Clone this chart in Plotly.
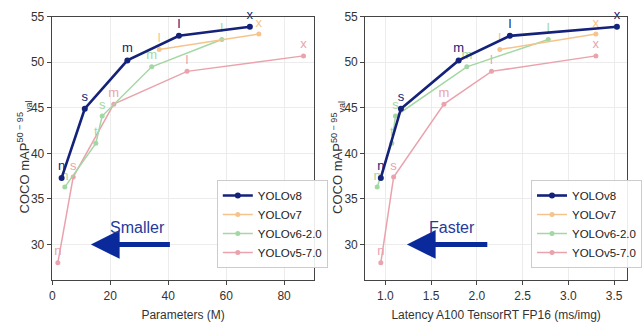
import plotly.graph_objects as go

# ---- data ----
series_names = ["YOLOv8", "YOLOv7", "YOLOv6-2.0", "YOLOv5-7.0"]

v8_labels = ["n", "s", "m", "l", "x"]
v8_params = [3.2, 11.2, 25.9, 43.7, 68.2]
v8_latency = [0.95, 1.17, 1.80, 2.36, 3.53]
v8_map = [37.3, 44.9, 50.2, 52.9, 53.9]

v7_labels = ["l", "x"]
v7_params = [36.9, 71.3]
v7_latency = [2.25, 3.30]
v7_map = [51.4, 53.1]

v6_labels = ["n", "t", "s", "m", "l"]
v6_params = [4.3, 15.0, 17.2, 34.3, 58.5]
v6_latency = [0.91, 1.07, 1.11, 1.89, 2.78]
v6_map = [36.3, 41.1, 44.1, 49.5, 52.5]

v5_labels = ["n", "s", "m", "l", "x"]
v5_params = [1.9, 7.2, 21.2, 46.5, 86.7]
v5_latency = [0.95, 1.09, 1.64, 2.16, 3.30]
v5_map = [28.0, 37.4, 45.4, 49.0, 50.7]

x_ticks_params = [0, 20, 40, 60, 80]
x_ticks_latency = [1.0, 1.5, 2.0, 2.5, 3.0, 3.5]
y_ticks = [30, 35, 40, 45, 50, 55]

y_title = "COCO mAP<sup>50 − 95</sup><sub>val</sub>"
x_title_left = "Parameters (M)"
x_title_right = "Latency A100 TensorRT FP16 (ms/img)"

# ---- styles ----
W, H = 642, 329
FONT = "Liberation Sans Narrow, Liberation Sans, Arial, sans-serif"
colors = {"YOLOv8": "#15227a", "YOLOv7": "#f5c48c", "YOLOv6-2.0": "#a3d7a3", "YOLOv5-7.0": "#eaa3ac"}
widths = {"YOLOv8": 2.6, "YOLOv7": 1.5, "YOLOv6-2.0": 1.5, "YOLOv5-7.0": 1.5}
msize = {"YOLOv8": 6, "YOLOv7": 5, "YOLOv6-2.0": 5, "YOLOv5-7.0": 5}
ARROW = "#0a2a9c"

data_left = {
    "YOLOv8": (v8_params, v8_map, v8_labels),
    "YOLOv7": (v7_params, v7_map, v7_labels),
    "YOLOv6-2.0": (v6_params, v6_map, v6_labels),
    "YOLOv5-7.0": (v5_params, v5_map, v5_labels),
}
data_right = {
    "YOLOv8": (v8_latency, v8_map, v8_labels),
    "YOLOv7": (v7_latency, v7_map, v7_labels),
    "YOLOv6-2.0": (v6_latency, v6_map, v6_labels),
    "YOLOv5-7.0": (v5_latency, v5_map, v5_labels),
}

fig = go.Figure()
order = ["YOLOv5-7.0", "YOLOv6-2.0", "YOLOv7", "YOLOv8"]  # draw v8 on top
rank = {"YOLOv8": 1, "YOLOv7": 2, "YOLOv6-2.0": 3, "YOLOv5-7.0": 4}
for name in order:
    for d, xa, ya, lg in [(data_left, "x", "y", "legend"), (data_right, "x2", "y2", "legend2")]:
        xs, ys, lbl = d[name]
        fig.add_trace(go.Scatter(
            x=xs, y=ys, text=lbl, mode="lines+markers+text",
            textposition="top center",
            textfont=dict(color=colors[name], size=13, family=FONT),
            line=dict(color=colors[name], width=widths[name]),
            marker=dict(color=colors[name], size=msize[name]),
            name=name, xaxis=xa, yaxis=ya, legend=lg,
            legendrank=rank[name],
            cliponaxis=False,
        ))

ytop = 1 - 16.7 / H
ybot = 1 - 280 / H
axis_common = dict(
    showline=True, linecolor="#444", linewidth=1.2, mirror=True,
    showgrid=True, gridcolor="#ececec", gridwidth=1,
    ticks="outside", ticklen=4, tickcolor="#444",
    tickfont=dict(size=12, color="#333", family=FONT),
    zeroline=False, automargin=False,
)

legend_common = dict(xanchor="left", yanchor="top",
                     bgcolor="rgba(255,255,255,0.9)", bordercolor="#ccc", borderwidth=1,
                     font=dict(size=11.5, color="#222", family=FONT), itemwidth=30)

fig.update_layout(
    width=W, height=H,
    margin=dict(l=0, r=0, t=0, b=0),
    paper_bgcolor="white", plot_bgcolor="white",
    font=dict(family=FONT, color="#333"),
    xaxis=dict(domain=[53 / W, 322 / W], range=[-0.2, 90.5], tickvals=x_ticks_params, anchor="y",
               title=dict(text=x_title_left, font=dict(size=12, color="#333"), standoff=9), **axis_common),
    yaxis=dict(domain=[ybot, ytop], range=[26.1, 55], tickvals=y_ticks, anchor="x", **axis_common),
    xaxis2=dict(domain=[374 / W, 1.0], range=[0.78, 3.64], tickvals=x_ticks_latency, tickformat=".1f", anchor="y2",
                title=dict(text=x_title_right, font=dict(size=12, color="#333"), standoff=9), **axis_common),
    yaxis2=dict(domain=[ybot, ytop], range=[26.1, 55], tickvals=y_ticks, anchor="x2", **axis_common),
    legend=dict(x=222 / W, y=1 - 180 / H, **legend_common),
    legend2=dict(x=544 / W, y=1 - 180 / H, **legend_common),
    showlegend=True,
)

# y-axis titles
for xp in [25 / W, 346 / W]:
    fig.add_annotation(x=xp, y=1 - 157 / H, xref="paper", yref="paper", text=y_title,
                       textangle=-90, showarrow=False, xanchor="center", yanchor="middle",
                       font=dict(size=13, color="#333", family=FONT))

# arrows and captions
arrows = [
    ("x", "y", 13.3, 41.1, 30, "Smaller", 29.4, 31.9),
    ("x2", "y2", 1.235, 2.13, 30, "Faster", 1.73, 31.9),
]
for xr, yr, head, tail, yv, txt, tx, ty in arrows:
    fig.add_annotation(x=head, y=yv, ax=tail, ay=yv, xref=xr, yref=yr, axref=xr, ayref=yr,
                       showarrow=True, arrowhead=2, arrowsize=1.15, arrowwidth=5, arrowcolor=ARROW, text="")
    fig.add_annotation(x=tx, y=ty, xref=xr, yref=yr, text=txt, showarrow=False,
                       font=dict(size=16, color="#243a9c", family=FONT))

fig.write_html("out.html", config={"displayModeBar": False},
               post_script="document.body.style.margin='0';document.body.style.padding='0';")
